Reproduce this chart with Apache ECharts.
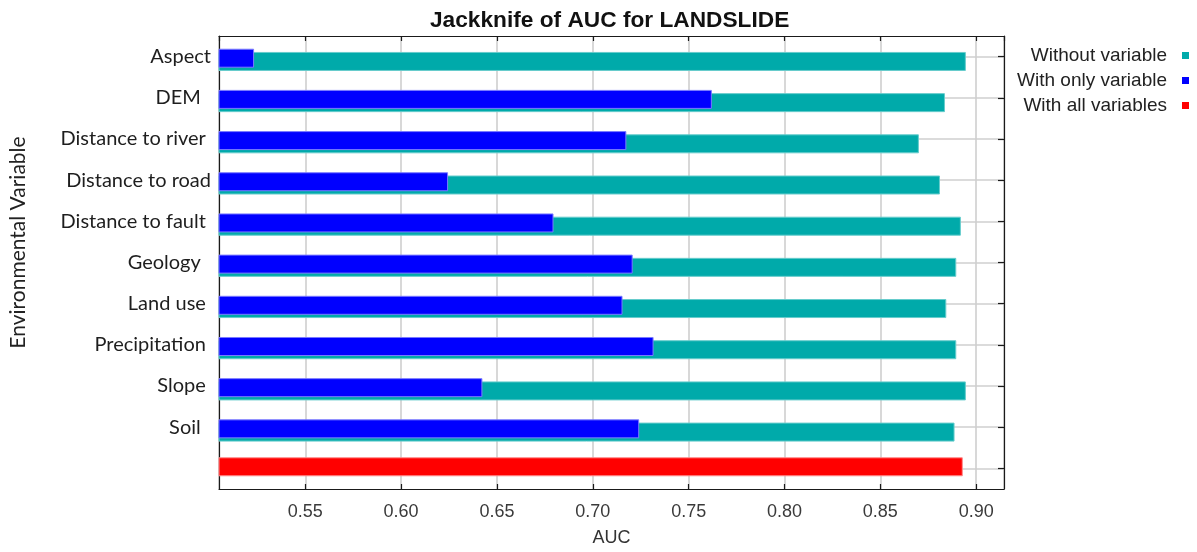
<!DOCTYPE html>
<html>
<head>
<meta charset="utf-8">
<title>Jackknife of AUC for LANDSLIDE</title>
<script src="https://cdn.jsdelivr.net/npm/echarts@6/dist/echarts.min.js"></script>
<style>
  html, body { margin: 0; padding: 0; background: #ffffff; }
  #chart { width: 1197px; height: 552px; }
</style>
</head>
<body>
<div id="chart"></div>
<script>
// Environmental variables, top to bottom; the last row holds the full model.
const categories = [
  'Aspect', 'DEM  ', 'Distance to river ', 'Distance to road', 'Distance to fault ',
  'Geology  ', 'Land use ', 'Precipitation ', 'Slope ', 'Soil  ', ''
];

// Training AUC when each variable is left out.
const withoutVariable = [0.8946, 0.8837, 0.8701, 0.8811, 0.8920, 0.8896, 0.8844, 0.8896, 0.8946, 0.8887, null];

// Training AUC of a model built from that variable alone.
const withOnlyVariable = [0.5233, 0.7621, 0.7175, 0.6245, 0.6795, 0.7208, 0.7155, 0.7317, 0.6424, 0.7242, null];

// Training AUC with every variable included.
const withAllVariables = [null, null, null, null, null, null, null, null, null, null, 0.8930];

const xTicks = { min: 0.505, max: 0.9145 };

const chart = echarts.init(document.getElementById('chart'), null, { renderer: 'canvas' });

const frameLine = { show: true, lineStyle: { color: '#1a1a1a', width: 1.2 } };
const barBase = { type: 'bar', barWidth: 19, barGap: '-82.9%', xAxisIndex: 0, yAxisIndex: 0 };

chart.setOption({
  animation: false,
  backgroundColor: '#ffffff',
  title: {
    text: 'Jackknife of AUC for LANDSLIDE',
    left: 430,
    top: 4,
    padding: [5, 0, 5, 0],
    textStyle: { fontFamily: 'Liberation Sans', fontWeight: 'bold', fontSize: 22.7, color: '#111111' }
  },
  legend: {
    data: ['Without variable', 'With only variable', 'With all variables'],
    orient: 'vertical',
    align: 'right',
    right: 3,
    top: 41,
    icon: 'rect',
    itemWidth: 7,
    itemHeight: 7,
    itemGap: 6,
    itemStyle: { borderWidth: 0 },
    textStyle: { fontFamily: 'Liberation Sans', fontSize: 19, color: '#222222', padding: [0, 10, 0, 0] }
  },
  grid: { left: 218, right: 193, top: 36, bottom: 62, containLabel: false },
  xAxis: [
    {
      type: 'value',
      min: xTicks.min,
      max: xTicks.max,
      splitNumber: 8,
      position: 'bottom',
      name: 'AUC',
      nameLocation: 'middle',
      nameGap: 40,
      nameTextStyle: { fontFamily: 'Liberation Sans', fontSize: 18, color: '#333333' },
      axisLine: frameLine,
      axisTick: { show: true, inside: true, length: 5, lineStyle: { color: '#1a1a1a', width: 1.2 } },
      axisLabel: {
        margin: 14,
        showMinLabel: false,
        showMaxLabel: false,
        fontFamily: 'Liberation Sans',
        fontSize: 18,
        color: '#3a3a3a',
        formatter: v => v.toFixed(2)
      },
      splitLine: { show: true, lineStyle: { color: '#cfcfcf', width: 1.6 } }
    },
    {
      type: 'value',
      min: xTicks.min,
      max: xTicks.max,
      splitNumber: 8,
      position: 'top',
      axisLine: frameLine,
      axisTick: { show: true, inside: true, length: 5, lineStyle: { color: '#1a1a1a', width: 1.2 } },
      axisLabel: { show: false },
      splitLine: { show: false }
    }
  ],
  yAxis: [
    {
      type: 'category',
      data: categories,
      inverse: true,
      position: 'left',
      name: 'Environmental Variable',
      nameLocation: 'middle',
      nameGap: 190,
      nameRotate: 90,
      nameTextStyle: { fontFamily: 'Lato', fontSize: 21, color: '#222222', padding: [0, 0, 0, 40] },
      axisLine: frameLine,
      axisTick: { show: false },
      axisLabel: { margin: 8, fontFamily: 'Lato', fontSize: 20, color: '#1e1e1e' },
      splitLine: { show: true, alignWithLabel: true, lineStyle: { color: '#cfcfcf', width: 1.6 } }
    },
    {
      type: 'category',
      data: categories,
      inverse: true,
      position: 'right',
      axisLine: frameLine,
      axisTick: { show: true, inside: true, alignWithLabel: true, length: 6, lineStyle: { color: '#1a1a1a', width: 1.2 } },
      axisLabel: { show: false },
      splitLine: { show: false }
    }
  ],
  series: [
    // empty slot that keeps each band's bars just below the label line
    Object.assign({}, barBase, { data: [], silent: true }),
    Object.assign({}, barBase, {
      name: 'With all variables',
      data: withAllVariables,
      itemStyle: { color: '#ff0000', borderColor: '#ff8a8a', borderWidth: 1 },
      z: 3
    }),
    Object.assign({}, barBase, {
      name: 'With only variable',
      data: withOnlyVariable,
      itemStyle: { color: '#0000ff', borderColor: '#7a7aff', borderWidth: 1 },
      z: 4
    }),
    Object.assign({}, barBase, {
      name: 'Without variable',
      data: withoutVariable,
      itemStyle: { color: '#00aaaa', borderColor: '#66cccc', borderWidth: 1 },
      z: 2
    })
  ]
});
</script>
</body>
</html>
